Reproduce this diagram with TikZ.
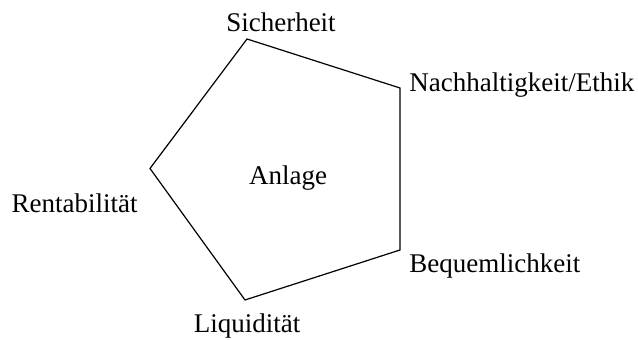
\documentclass[tikz,border=0pt]{standalone}
\usepackage{fontspec}
\setmainfont{Liberation Serif}
\usetikzlibrary{positioning}

\begin{document}
\begin{tikzpicture}[x=0.5pt, y=-0.5pt]
      \tikzset{
	  label/.style={inner sep=0pt, font=\fontsize{13.5}{16}\selectfont, text=black},
	  edge/.style={draw=black, line width=0.6pt, line join=miter}
      }
      \useasboundingbox (0,0) rectangle (638,340);
      % corners of the pentagon
      \coordinate (sich) at (247,39);
      \coordinate (nach) at (400,88);
      \coordinate (bequ) at (400,250);
      \coordinate (liqu) at (245,300);
      \coordinate (rent) at (150,168.5);
      \draw [edge] (sich) -- (nach) -- (bequ) -- (liqu) -- (rent) -- cycle;

      \node at (288,185) [label, anchor=base] (anlage) {Anlage};
      \node at (281,32) [label, anchor=base] (lsich) {Sicherheit};
      \node at (409,92) [label, anchor=base west] (lnach) {Nachhaltigkeit/Ethik};
      \node at (409,273) [label, anchor=base west] (lbequ) {Bequemlichkeit};
      \node at (247,333) [label, anchor=base] (lliqu) {Liquidität};
      \node at (74.5,213) [label, anchor=base] (lrent) {Rentabilität};
    \end{tikzpicture}
\end{document}
